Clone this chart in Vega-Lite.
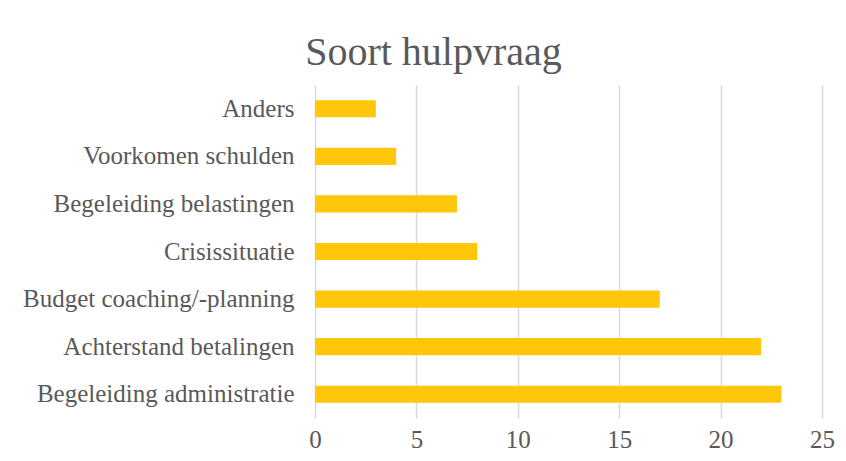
{
  "$schema": "https://vega.github.io/schema/vega-lite/v6.json",
  "autosize": "none",
  "width": 507,
  "height": 333,
  "padding": {"left": 315, "top": 85, "right": 24, "bottom": 43},
  "background": "white",
  "title": {
    "text": "Soort hulpvraag",
    "font": "Liberation Serif",
    "fontSize": 40,
    "fontWeight": "normal",
    "color": "#595959",
    "anchor": "middle",
    "dx": -135,
    "offset": 12
  },
  "data": {
    "values": [
      {"cat": "Anders ", "value": 3},
      {"cat": "Voorkomen schulden", "value": 4},
      {"cat": "Begeleiding belastingen", "value": 7},
      {"cat": "Crisissituatie", "value": 8},
      {"cat": "Budget coaching/-planning", "value": 17},
      {"cat": "Achterstand betalingen", "value": 22},
      {"cat": "Begeleiding administratie", "value": 23}
    ]
  },
  "mark": {"type": "bar", "color": "#FFC60A"},
  "encoding": {
    "y": {
      "field": "cat",
      "type": "nominal",
      "sort": null,
      "scale": {"paddingInner": 0.64, "paddingOuter": 0.32},
      "axis": {
        "title": null,
        "ticks": false,
        "domain": false,
        "labelFont": "Liberation Serif",
        "labelFontSize": 25,
        "labelColor": "#595959",
        "labelPadding": 21,
        "labelLimit": 400
      }
    },
    "x": {
      "field": "value",
      "type": "quantitative",
      "scale": {"domain": [0, 25], "nice": false},
      "axis": {
        "title": null,
        "values": [0, 5, 10, 15, 20, 25],
        "ticks": false,
        "domain": false,
        "grid": true,
        "gridColor": "#d9d9d9",
        "gridWidth": 1.5,
        "labelFont": "Liberation Serif",
        "labelFontSize": 25,
        "labelColor": "#595959",
        "labelPadding": 9,
        "labelFlush": false
      }
    }
  },
  "config": {"view": {"stroke": null}}
}
